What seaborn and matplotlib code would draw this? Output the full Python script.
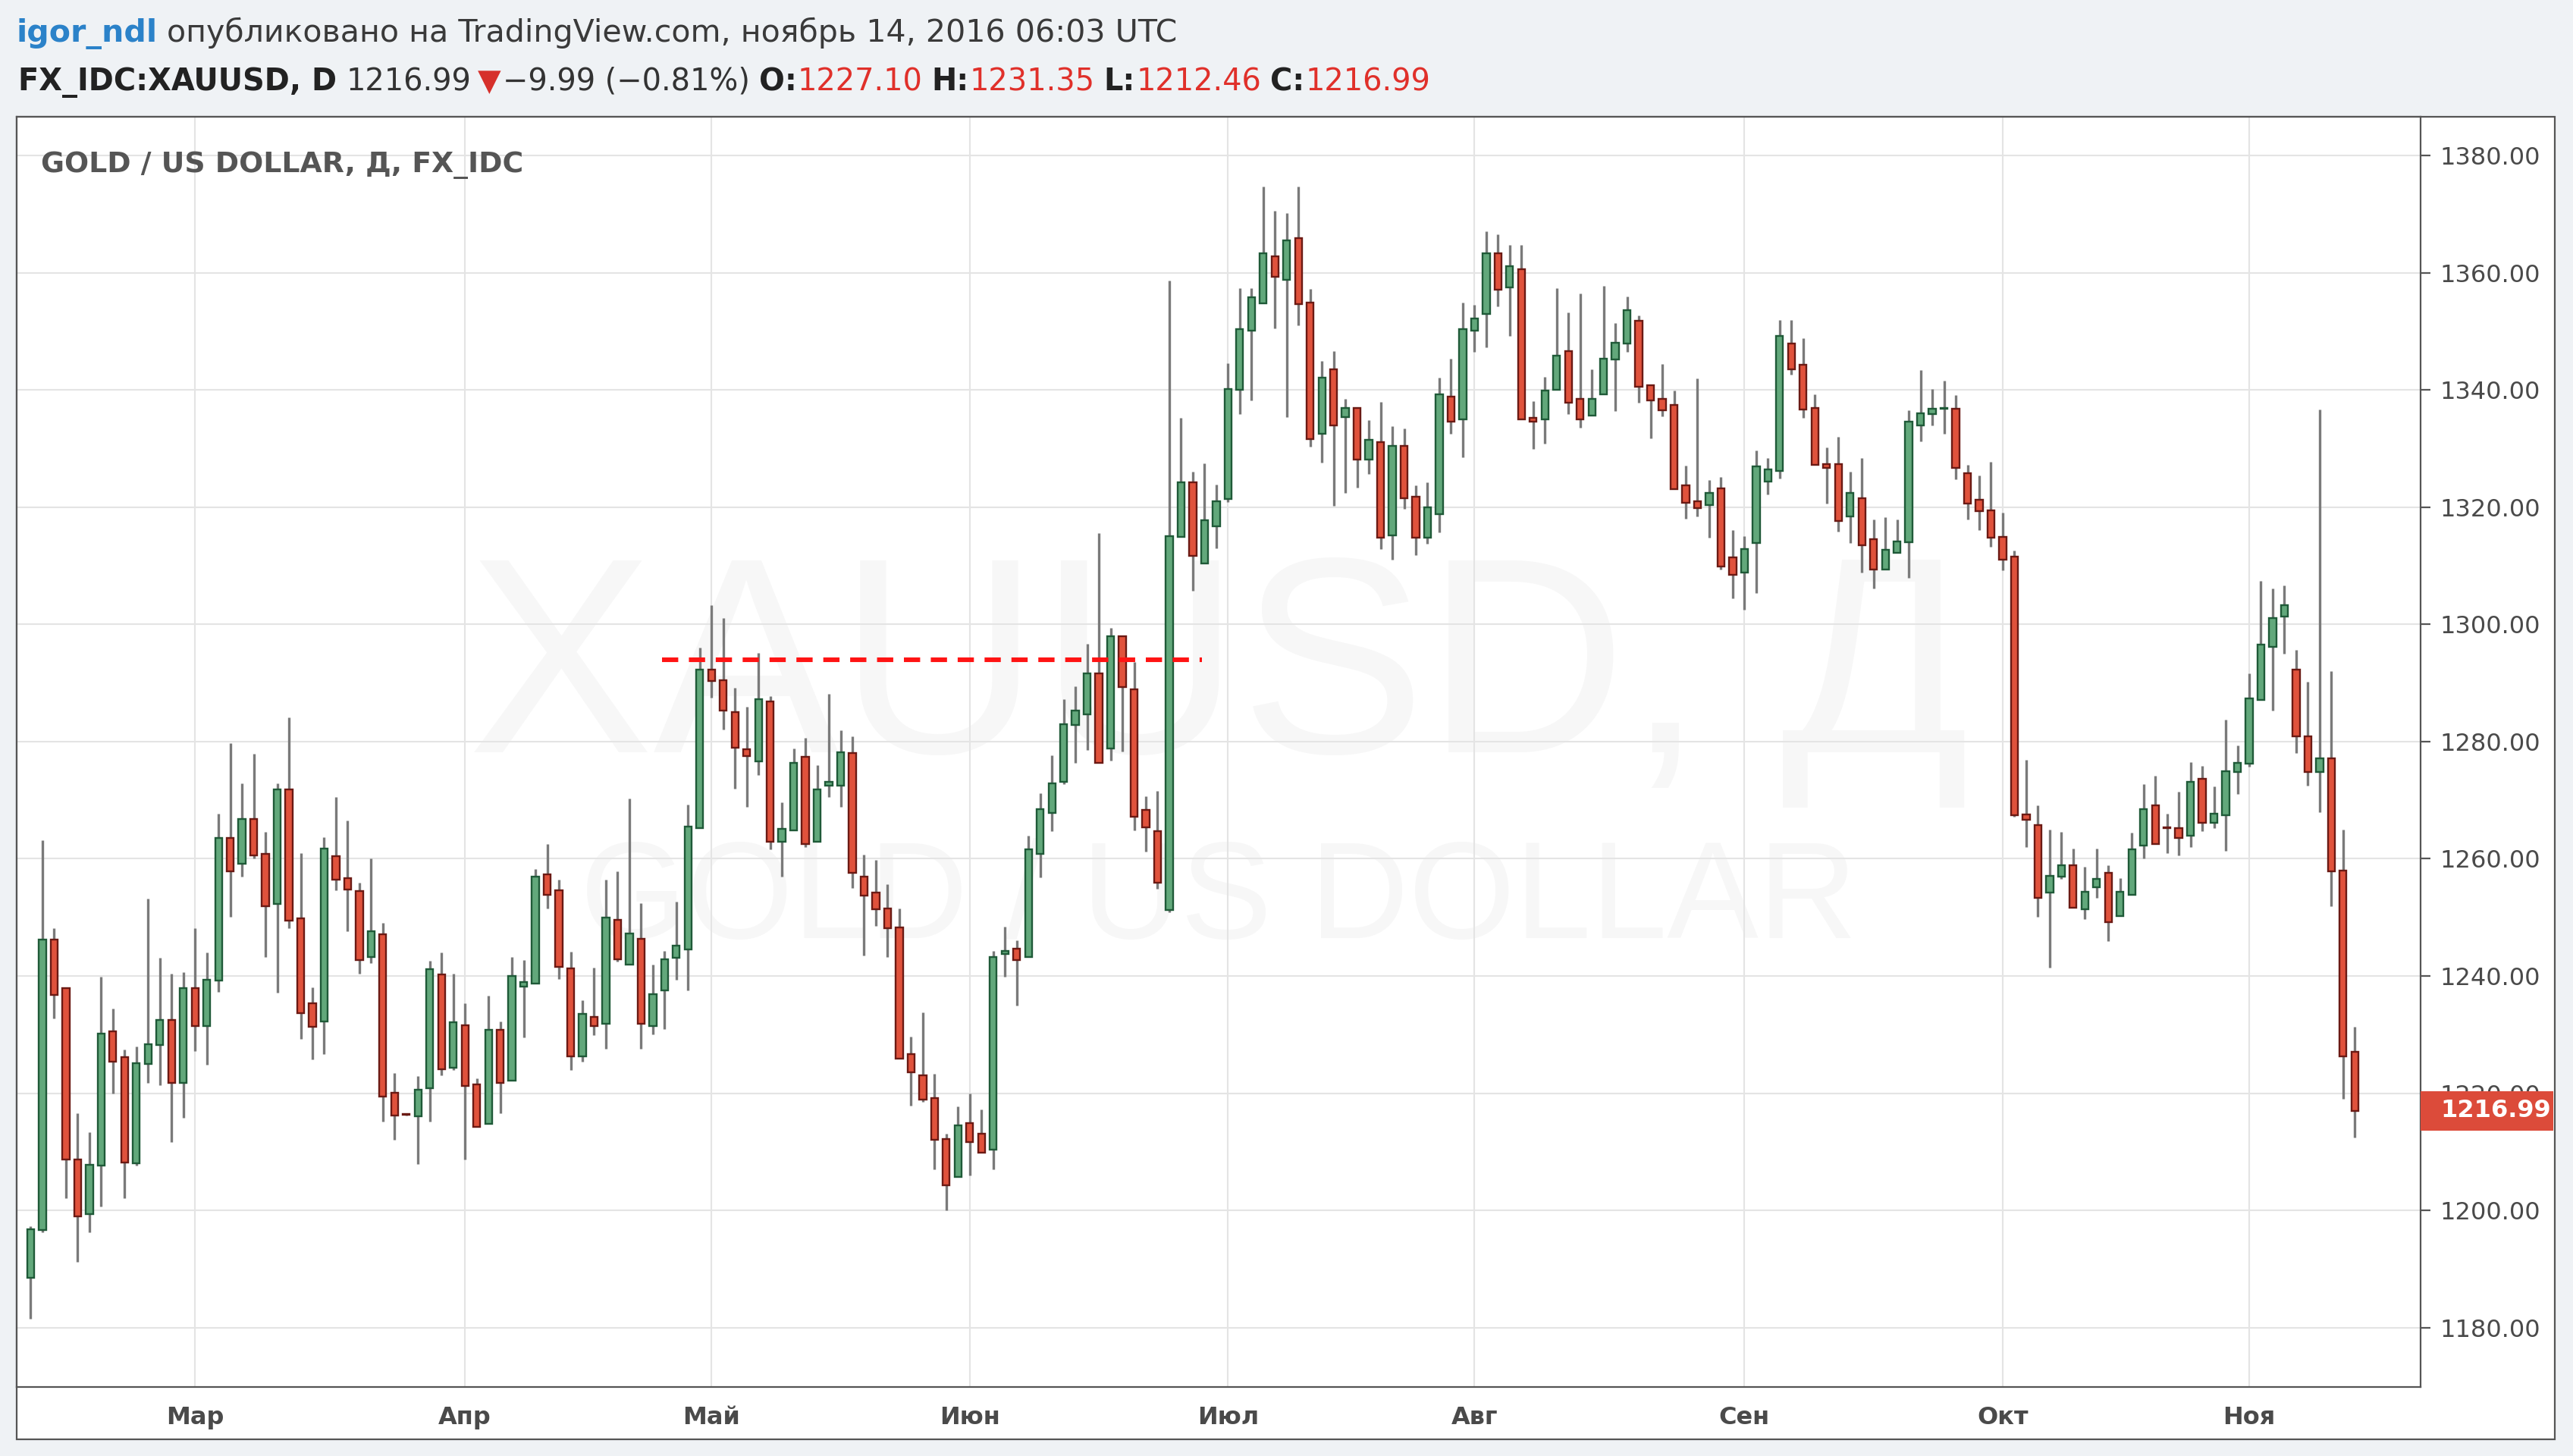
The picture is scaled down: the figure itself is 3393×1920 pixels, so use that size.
import numpy as np
import pandas as pd
import seaborn as sns
import matplotlib.pyplot as plt
import matplotlib.transforms as mtransforms
from matplotlib.patches import Rectangle

# daily OHLC, FX_IDC:XAUUSD, 10 Feb 2016 .. 14 Nov 2016 (weekdays)
dates = pd.bdate_range("2016-02-10", "2016-11-14")

opens = [
    1188.5, 1196.6, 1246.2, 1237.9, 1208.7, 1199.3, 1207.6, 1230.6, 1226.1, 1208.0,
    1225.0, 1228.2, 1232.5, 1221.8, 1237.9, 1231.4, 1239.2, 1263.6, 1259.2, 1266.8,
    1260.9, 1252.3, 1271.9, 1249.9, 1235.3, 1232.2, 1260.4, 1256.7, 1254.5, 1243.2,
    1247.1, 1220.1, 1216.5, 1216.1, 1220.8, 1240.2, 1224.4, 1231.6, 1221.5, 1214.8,
    1230.8, 1222.1, 1238.2, 1238.7, 1257.4, 1254.6, 1241.3, 1226.3, 1233.0, 1231.8,
    1249.6, 1242.0, 1246.3, 1231.5, 1237.5, 1243.1, 1244.5, 1265.3, 1292.3, 1290.5,
    1285.0, 1278.7, 1276.6, 1286.9, 1262.9, 1264.8, 1277.4, 1262.9, 1272.5, 1272.5,
    1278.0, 1257.0, 1254.2, 1251.5, 1248.3, 1226.7, 1223.1, 1219.1, 1212.2, 1205.7,
    1214.9, 1213.1, 1210.3, 1243.8, 1244.7, 1243.2, 1260.9, 1267.8, 1273.2, 1282.8,
    1284.6, 1291.7, 1278.8, 1298.0, 1288.9, 1268.3, 1264.7, 1251.2, 1314.9, 1324.3,
    1310.4, 1316.8, 1321.4, 1340.1, 1350.2, 1354.8, 1362.8, 1358.8, 1366.0, 1355.0,
    1332.6, 1343.5, 1335.4, 1337.0, 1328.1, 1331.1, 1315.2, 1330.5, 1321.8, 1314.8,
    1318.8, 1338.9, 1335.0, 1350.2, 1353.0, 1363.4, 1357.5, 1360.6, 1335.2, 1335.0,
    1340.1, 1346.7, 1338.5, 1335.6, 1339.3, 1345.2, 1348.0, 1351.8, 1340.8, 1338.5,
    1337.5, 1323.8, 1321.0, 1320.4, 1323.2, 1311.4, 1308.9, 1313.9, 1324.4, 1326.2,
    1347.9, 1344.3, 1336.9, 1327.4, 1327.4, 1318.5, 1321.5, 1314.6, 1309.4, 1312.2,
    1314.1, 1334.0, 1335.9, 1336.8, 1336.8, 1325.8, 1321.3, 1319.5, 1314.9, 1311.6,
    1267.6, 1265.8, 1254.2, 1256.9, 1258.9, 1251.4, 1255.2, 1257.6, 1250.2, 1253.8,
    1262.2, 1269.1, 1265.4, 1265.3, 1263.9, 1273.6, 1266.2, 1267.5, 1274.8, 1276.2,
    1287.1, 1296.2, 1301.4, 1292.3, 1280.9, 1274.8, 1277.2, 1258.0, 1227.10,
]
highs = [
    1197.3, 1263.2, 1248.2, 1237.9, 1216.6, 1213.4, 1239.9, 1234.4, 1227.4, 1228.0,
    1253.2, 1243.1, 1240.4, 1240.7, 1248.2, 1244.0, 1267.7, 1279.8, 1272.9, 1277.9,
    1264.6, 1272.9, 1284.2, 1261.0, 1238.0, 1263.7, 1270.6, 1266.5, 1255.9, 1260.0,
    1249.0, 1223.4, 1216.6, 1222.9, 1242.6, 1244.0, 1240.4, 1235.3, 1222.5, 1236.7,
    1232.2, 1243.2, 1242.7, 1258.3, 1262.5, 1256.5, 1244.1, 1235.9, 1241.4, 1256.5,
    1257.9, 1270.3, 1252.4, 1242.0, 1244.3, 1252.7, 1269.2, 1296.1, 1303.3, 1301.1,
    1289.2, 1286.0, 1295.1, 1287.8, 1269.7, 1278.8, 1280.6, 1276.0, 1288.2, 1281.9,
    1280.9, 1260.7, 1259.8, 1255.7, 1251.5, 1229.7, 1233.8, 1223.3, 1213.1, 1217.7,
    1220.0, 1217.2, 1244.3, 1248.4, 1246.1, 1263.9, 1271.2, 1277.7, 1287.2, 1289.5,
    1296.7, 1315.6, 1299.4, 1298.0, 1293.6, 1270.7, 1271.6, 1358.7, 1335.3, 1326.1,
    1327.5, 1323.9, 1344.6, 1357.4, 1357.4, 1374.8, 1370.6, 1370.2, 1374.8, 1357.3,
    1345.0, 1346.7, 1338.5, 1337.0, 1334.9, 1338.0, 1333.9, 1333.4, 1323.7, 1324.2,
    1342.1, 1345.4, 1355.0, 1354.6, 1367.1, 1366.6, 1364.8, 1364.8, 1338.1, 1342.2,
    1357.4, 1353.3, 1356.5, 1343.6, 1357.8, 1351.4, 1356.0, 1352.8, 1340.8, 1344.5,
    1339.9, 1327.1, 1342.0, 1324.7, 1325.2, 1316.1, 1315.1, 1329.7, 1328.4, 1352.0,
    1352.0, 1348.9, 1339.3, 1330.2, 1332.0, 1326.1, 1328.4, 1317.9, 1318.3, 1317.9,
    1336.5, 1343.4, 1340.2, 1341.6, 1339.2, 1327.3, 1325.4, 1327.7, 1319.1, 1312.6,
    1276.9, 1269.1, 1265.0, 1264.6, 1261.7, 1258.6, 1261.7, 1258.9, 1256.7, 1264.5,
    1272.7, 1274.2, 1267.7, 1271.5, 1276.5, 1275.9, 1272.3, 1283.8, 1279.3, 1291.6,
    1307.5, 1306.1, 1306.7, 1295.6, 1290.2, 1336.7, 1292.0, 1265.0, 1231.35,
]
lows = [
    1181.5, 1196.2, 1232.8, 1202.1, 1191.2, 1196.2, 1200.7, 1219.9, 1202.1, 1207.6,
    1221.8, 1221.3, 1211.6, 1215.8, 1227.2, 1224.9, 1237.3, 1250.1, 1256.9, 1260.1,
    1243.2, 1237.1, 1248.1, 1229.3, 1225.8, 1226.7, 1254.6, 1247.7, 1240.4, 1242.2,
    1215.2, 1212.0, 1216.2, 1207.9, 1215.2, 1223.1, 1224.0, 1208.7, 1214.3, 1214.8,
    1216.6, 1222.1, 1229.5, 1238.7, 1251.5, 1239.5, 1224.0, 1225.4, 1229.9, 1227.6,
    1242.4, 1242.0, 1227.6, 1230.0, 1231.0, 1239.4, 1237.5, 1265.3, 1287.5, 1282.1,
    1272.0, 1268.8, 1274.3, 1261.6, 1257.0, 1264.8, 1262.0, 1262.9, 1270.6, 1268.8,
    1255.0, 1243.5, 1248.6, 1243.2, 1225.9, 1217.9, 1218.5, 1207.0, 1200.0, 1205.7,
    1206.0, 1209.9, 1207.0, 1239.9, 1235.0, 1243.2, 1256.8, 1264.7, 1272.8, 1276.4,
    1278.6, 1276.4, 1276.8, 1278.3, 1264.9, 1261.2, 1254.9, 1250.9, 1314.9, 1305.8,
    1310.4, 1313.0, 1320.9, 1335.9, 1338.3, 1354.8, 1350.5, 1335.4, 1351.0, 1330.4,
    1327.6, 1320.2, 1322.5, 1323.4, 1325.7, 1312.9, 1311.0, 1319.7, 1311.9, 1313.8,
    1315.7, 1332.6, 1328.5, 1346.5, 1347.3, 1354.3, 1349.2, 1335.0, 1329.9, 1330.8,
    1340.1, 1335.9, 1333.6, 1335.6, 1339.3, 1336.4, 1346.5, 1337.8, 1331.8, 1335.5,
    1323.1, 1318.0, 1318.5, 1314.8, 1309.4, 1304.4, 1302.5, 1305.3, 1322.2, 1324.9,
    1342.6, 1335.3, 1327.2, 1320.7, 1315.8, 1313.9, 1308.9, 1306.2, 1309.4, 1312.2,
    1308.0, 1331.2, 1334.0, 1332.6, 1324.8, 1317.9, 1316.1, 1313.3, 1309.2, 1267.2,
    1262.0, 1250.1, 1241.4, 1256.6, 1251.6, 1249.7, 1253.3, 1246.0, 1250.2, 1253.8,
    1260.1, 1262.5, 1261.0, 1260.6, 1262.0, 1264.7, 1265.2, 1261.4, 1271.0, 1275.7,
    1287.1, 1285.3, 1295.0, 1278.0, 1272.5, 1267.9, 1251.9, 1219.0, 1212.46,
]
closes = [
    1196.8, 1246.2, 1236.8, 1208.7, 1199.0, 1207.8, 1230.2, 1225.4, 1208.1, 1225.1,
    1228.3, 1232.5, 1221.8, 1237.9, 1231.4, 1239.4, 1263.6, 1257.9, 1266.8, 1260.6,
    1251.9, 1271.9, 1249.5, 1233.6, 1231.3, 1261.8, 1256.5, 1254.7, 1242.7, 1247.6,
    1219.4, 1216.2, 1216.3, 1220.6, 1241.2, 1224.1, 1232.1, 1221.2, 1214.3, 1230.8,
    1221.7, 1240.0, 1239.0, 1256.9, 1253.9, 1241.5, 1226.3, 1233.5, 1231.4, 1250.0,
    1242.9, 1247.3, 1231.8, 1236.9, 1242.9, 1245.2, 1265.5, 1292.3, 1290.3, 1285.3,
    1278.9, 1277.6, 1287.3, 1262.9, 1265.1, 1276.4, 1262.5, 1271.8, 1273.2, 1278.2,
    1257.6, 1253.7, 1251.4, 1248.2, 1225.9, 1223.6, 1218.9, 1212.1, 1204.3, 1214.5,
    1211.6, 1209.9, 1243.2, 1244.3, 1242.7, 1261.6, 1268.5, 1272.9, 1283.0, 1285.3,
    1291.7, 1276.4, 1298.0, 1289.3, 1267.2, 1265.4, 1255.9, 1315.1, 1324.3, 1311.7,
    1317.8, 1321.0, 1340.2, 1350.4, 1355.8, 1363.3, 1359.3, 1365.5, 1354.7, 1331.7,
    1342.1, 1334.0, 1337.0, 1328.1, 1331.5, 1314.8, 1330.5, 1321.6, 1314.8, 1320.0,
    1339.3, 1334.6, 1350.4, 1352.2, 1363.4, 1357.1, 1361.1, 1335.0, 1334.6, 1339.9,
    1345.9, 1337.8, 1335.0, 1338.5, 1345.4, 1348.1, 1353.7, 1340.6, 1338.3, 1336.5,
    1323.1, 1320.8, 1319.9, 1322.4, 1309.9, 1308.5, 1312.9, 1327.0, 1326.5, 1349.2,
    1343.5, 1336.7, 1327.2, 1326.7, 1317.7, 1322.4, 1313.5, 1309.4, 1312.8, 1314.2,
    1334.6, 1336.0, 1336.8, 1336.9, 1326.7, 1320.7, 1319.3, 1314.8, 1311.1, 1267.4,
    1266.7, 1253.3, 1257.1, 1258.9, 1251.6, 1254.4, 1256.6, 1249.2, 1254.4, 1261.6,
    1268.5, 1262.5, 1265.2, 1263.5, 1273.1, 1266.2, 1267.7, 1275.0, 1276.4, 1287.4,
    1296.5, 1301.1, 1303.3, 1280.9, 1274.8, 1277.2, 1257.9, 1226.3, 1216.99,
]

month_starts = ["2016-03-01", "2016-04-01", "2016-05-02", "2016-06-01", "2016-07-01",
                "2016-08-01", "2016-09-01", "2016-10-03", "2016-11-01"]
month_labels = ["Мар", "Апр", "Май", "Июн", "Июл", "Авг", "Сен", "Окт", "Ноя"]
price_ticks = list(range(1180, 1381, 20))

# drawn horizontal level (price, start bar, end bar)
level_price = 1294.0
level_span = (53.8, 99.8)

last_close = closes[-1]

UP, UP_EDGE = "#62a87b", "#1f5a38"
DN, DN_EDGE = "#e0523c", "#6b1a14"
WICK = "#7a7a7a"
GRID = "#e4e4e4"
FRAME = "#555555"
BG = "#eff2f5"

df = pd.DataFrame({"date": dates, "open": opens, "high": highs,
                   "low": lows, "close": closes})
df["x"] = np.arange(len(df))
up = df["close"] >= df["open"]
month_x = [dates.get_loc(pd.Timestamp(d)) for d in month_starts]

sns.set_style("white")
plt.rcParams["font.family"] = ["DejaVu Sans"]

W_PX, H_PX, DPI = 3393, 1920, 200
fig = plt.figure(figsize=(W_PX / DPI, H_PX / DPI), dpi=DPI, facecolor=BG)

# white chart frame (plot + axis strips), kept behind the axes
fx0, fx1 = 21.6 / W_PX, 3369.4 / W_PX
fy0, fy1 = 1 - 1898 / H_PX, 1 - 153.6 / H_PX
fig.patches.append(Rectangle((fx0, fy0), fx1 - fx0, fy1 - fy0, transform=fig.transFigure,
                             facecolor="white", edgecolor=FRAME, linewidth=0.8, zorder=-1))

ax = fig.add_axes([21.6 / W_PX, 1 - 1828.6 / H_PX, (3192 - 21.6) / W_PX, (1828.6 - 153.6) / H_PX])
ax.set_facecolor("white")
ax.set_axisbelow(True)

# watermark
ax.text(0.5, 0.556, "XAUUSD, Д", transform=ax.transAxes, ha="center", va="center",
        fontsize=132, color="#f7f7f7", family="Liberation Sans", zorder=0.1)
ax.text(0.5, 0.381, "GOLD / US DOLLAR", transform=ax.transAxes, ha="center", va="center",
        fontsize=65, color="#f7f7f7", family="Liberation Sans", zorder=0.1)

# candles
ax.vlines(df["x"], df["low"], df["high"], color=WICK, linewidth=1.2, zorder=3)
ax.bar(df["x"][up], (df["close"] - df["open"])[up], bottom=df["open"][up], width=0.6,
       color=UP, edgecolor=UP_EDGE, linewidth=0.85, zorder=4)
ax.bar(df["x"][~up], (df["open"] - df["close"])[~up], bottom=df["close"][~up], width=0.6,
       color=DN, edgecolor=DN_EDGE, linewidth=0.85, zorder=4)

# red dashed level
ax.plot(level_span, [level_price, level_price], color="#ff1414", linewidth=2.2,
        linestyle=(0, (3.5, 2.3)), zorder=5, dash_capstyle="butt")

ax.set_xlim(-1.22, 203.6)
ax.set_ylim(1169.9, 1386.7)

ax.set_yticks(price_ticks, [f"{v:.2f}" for v in price_ticks])
ax.yaxis.tick_right()
ax.set_xticks(month_x, month_labels)
ax.grid(True, color=GRID, linewidth=0.75)
ax.tick_params(axis="y", length=4.5, width=0.8, color=FRAME, pad=4.5,
               labelsize=11.5, labelcolor="#4a4a4a")
ax.tick_params(axis="x", length=0, pad=9, labelsize=11.5, labelcolor="#4a4a4a")
for lab in ax.get_xticklabels():
    lab.set_fontweight("bold")
for sp in ax.spines.values():
    sp.set_color(FRAME)
    sp.set_linewidth(0.8)

ax.text(0.0102, 0.9615, "GOLD / US DOLLAR, Д, FX_IDC", transform=ax.transAxes,
        ha="left", va="center", fontsize=13.6, fontweight="bold", color="#555555")

# last price label on the price scale
blend = mtransforms.blended_transform_factory(ax.transAxes, ax.transData)
ax.add_patch(Rectangle((1.0, last_close - 3.35), 0.0552, 6.7, transform=blend,
                       facecolor="#dc4b3a", edgecolor="none", clip_on=False, zorder=10))
ax.text(1.0082, last_close, f"{last_close:.2f}", transform=blend, ha="left", va="center",
        fontsize=11.5, fontweight="bold", color="white", clip_on=False, zorder=11)

# header
renderer = fig.canvas.get_renderer()


def run_text(x_px, base_px, pieces, size):
    x = x_px
    for s, color, weight, gap in pieces:
        x += gap
        t = fig.text(x / W_PX, 1 - base_px / H_PX, s, color=color, fontweight=weight,
                     fontsize=size, ha="left", va="baseline")
        x = t.get_window_extent(renderer).x1


RED = "#e0302a"
run_text(21.6, 55, [
    ("igor_ndl", "#2b82c9", "bold", 0),
    ("опубликовано на TradingView.com, ноябрь 14, 2016 06:03 UTC", "#3a3a3a", "normal", 12),
], 14.8)
run_text(24, 119, [
    ("FX_IDC:XAUUSD, D", "#222222", "bold", 0),
    ("1216.99", "#333333", "normal", 12),
    ("▼", "#d6302b", "normal", 9),
    ("−9.99 (−0.81%)", "#333333", "normal", 2),
    ("O:", "#222222", "bold", 12),
    ("1227.10", RED, "normal", 1),
    ("H:", "#222222", "bold", 12),
    ("1231.35", RED, "normal", 1),
    ("L:", "#222222", "bold", 12),
    ("1212.46", RED, "normal", 1),
    ("C:", "#222222", "bold", 12),
    ("1216.99", RED, "normal", 1),
], 14.35)

fig.savefig("out.png", dpi=DPI, facecolor=fig.get_facecolor())
